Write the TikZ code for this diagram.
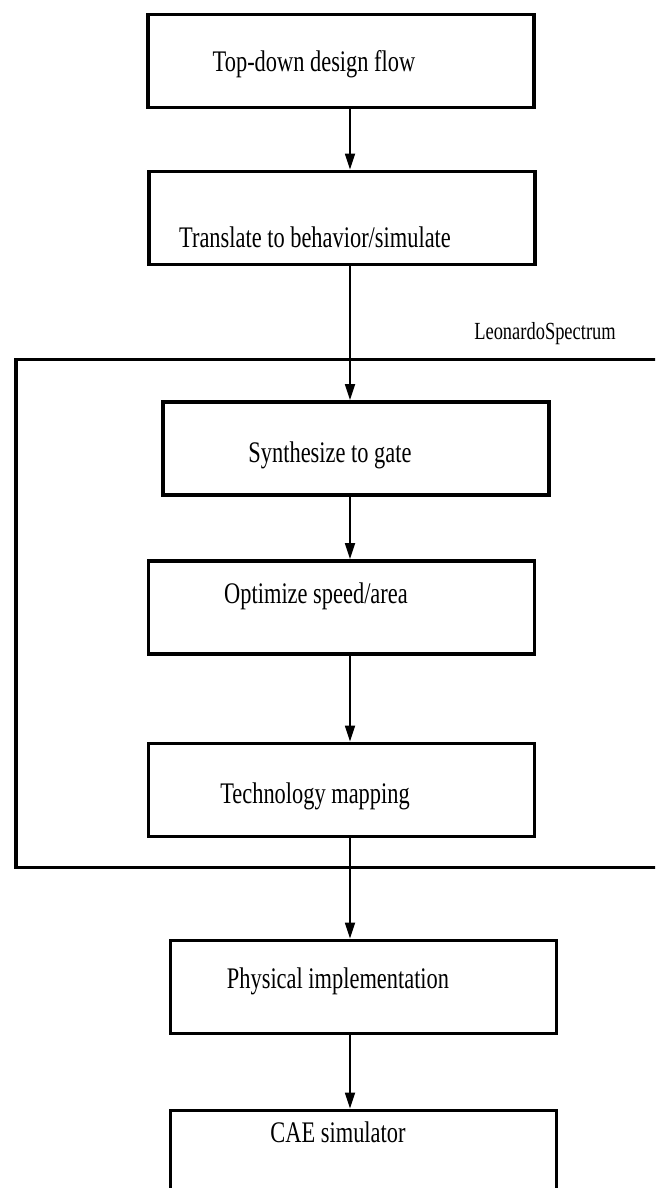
\documentclass[tikz,border=0pt]{standalone}
\usepackage{fontspec}
\setmainfont{Liberation Serif}[FakeStretch=0.75]
\usetikzlibrary{arrows.meta}

\begin{document}
\begin{tikzpicture}[
    stage/.style={draw, line width=2.2pt, minimum width=7.72cm, minimum height=1.86cm, inner sep=0pt},
    caption/.style={anchor=base, font=\fontsize{17}{20}\selectfont},
    flow/.style={line width=1pt, -{Triangle[length=0.32cm, width=0.2cm]}}
  ]
    \clip (0,0) rectangle (13.1,-23.76);
    \coordinate (axis) at (7,0);
    \node[draw, line width=1.9pt, minimum width=13.08cm, minimum height=10.16cm, inner sep=0pt] (tool) at (6.86,-12.27) {};
    \node[anchor=base, font=\fontsize{14}{16}\selectfont] (toolname) at (10.90,-6.78) {LeonardoSpectrum};
    \node[stage] (b1) at (6.82,-1.22) {};
    \node[stage] (b2) at (6.84,-4.36) {};
    \node[stage] (b3) at (7.12,-8.97) {};
    \node[stage] (b4) at (6.83,-12.15) {};
    \node[stage] (b5) at (6.83,-15.80) {};
    \node[stage] (b6) at (7.27,-19.74) {};
    \node[stage] (b7) at (7.27,-23.14) {};
    \node[caption] (t1) at (6.28,-1.44) {Top-down design flow};
    \node[caption] (t2) at (6.30,-4.94) {Translate to behavior/simulate};
    \node[caption] (t3) at (6.60,-9.24) {Synthesize to gate};
    \node[caption] (t4) at (6.32,-12.06) {Optimize speed/area};
    \node[caption] (t5) at (6.30,-16.06) {Technology mapping};
    \node[caption] (t6) at (6.76,-19.76) {Physical implementation};
    \node[caption] (t7) at (6.76,-22.84) {CAE simulator};
    \draw[flow] (b1.south -| axis) -- (b2.north -| axis);
    \draw[flow] (b2.south -| axis) -- (b3.north -| axis);
    \draw[flow] (b3.south -| axis) -- (b4.north -| axis);
    \draw[flow] (b4.south -| axis) -- (b5.north -| axis);
    \draw[flow] (b5.south -| axis) -- (b6.north -| axis);
    \draw[flow] (b6.south -| axis) -- (b7.north -| axis);
\end{tikzpicture}
\end{document}
